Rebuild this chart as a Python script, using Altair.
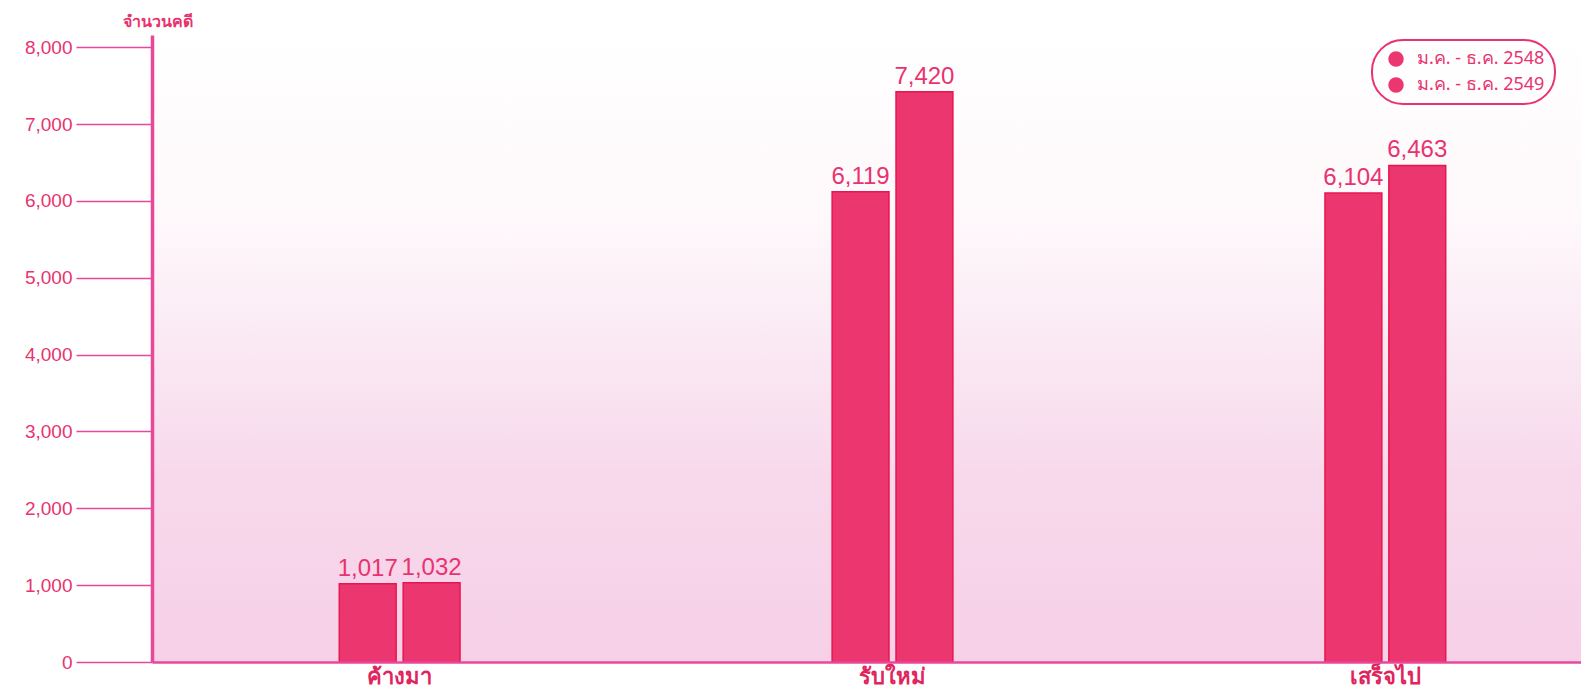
import altair as alt
import pandas as pd

categories = ["ค้างมา", "รับใหม่", "เสร็จไป"]
series = ["ม.ค. - ธ.ค. 2548", "ม.ค. - ธ.ค. 2549"]
v2548 = [1017, 6119, 6104]
v2549 = [1032, 7420, 6463]
y_ticks = [0, 1000, 2000, 3000, 4000, 5000, 6000, 7000, 8000]

rows = []
for i, c in enumerate(categories):
    rows.append({"cat": c, "series": series[0], "value": v2548[i]})
    rows.append({"cat": c, "series": series[1], "value": v2549[i]})
df = pd.DataFrame(rows)

W, H = 1429, 627
PINK = "#e8336f"
LINE = "#e8489a"
BAR = "#ec3670"
NUMFONT = "Liberation Sans"
THFONT = "Noto Sans"

bg = alt.Chart(pd.DataFrame({"a": [0]})).mark_rect(
    color=alt.LinearGradient(
        gradient="linear", x1=0, x2=0, y1=0, y2=1,
        stops=[
            alt.GradientStop(offset=0, color="#ffffff"),
            alt.GradientStop(offset=0.3, color="#fef8fb"),
            alt.GradientStop(offset=0.5, color="#fae8f3"),
            alt.GradientStop(offset=0.7, color="#f8d9ec"),
            alt.GradientStop(offset=1, color="#f6d0e7"),
        ],
    )
).encode(x=alt.value(0), x2=alt.value(W + 10), y=alt.value(0), y2=alt.value(H))

xenc = alt.X("cat:N", sort=categories,
             scale=alt.Scale(range=[0, 1481], paddingInner=0.755, paddingOuter=0.38),
             axis=alt.Axis(title=None, labelAngle=0, ticks=False, domainColor=LINE,
                           domainWidth=2.5, labelFontSize=22, labelFontWeight="bold",
                           labelColor="#e0245e", labelPadding=21, zindex=1,
                           labelBaseline="alphabetic", labelFont=THFONT))
xoff = alt.XOffset("series:N", sort=series, scale=alt.Scale(paddingInner=0.11))
yenc = alt.Y("value:Q", scale=alt.Scale(domain=[0, 8160], nice=False),
             axis=alt.Axis(values=y_ticks, format=",.0f", grid=False, tickSize=76,
                           tickColor=LINE, tickWidth=1.5, domainColor=LINE,
                           domainWidth=3.5, labelFontSize=19, labelColor=PINK,
                           labelPadding=4, labelFont=NUMFONT, zindex=1,
                           title="จำนวนคดี", titleAngle=0, titleX=5, titleY=-6,
                           titleAlign="center", titleBaseline="bottom",
                           titleFontSize=16, titleFontWeight="bold",
                           titleColor=PINK, titleFont=THFONT))

bars = alt.Chart(df).mark_bar(stroke="#e8164e", strokeWidth=1.5).encode(
    x=xenc, xOffset=xoff, y=yenc,
    color=alt.Color("series:N", sort=series,
                    scale=alt.Scale(domain=series, range=[BAR, BAR]),
                    legend=alt.Legend(title=None, orient="none", legendX=1220, legendY=5,
                                      strokeColor=PINK, cornerRadius=31,
                                      padding=10, symbolType="circle", symbolSize=240,
                                      labelFontSize=18, labelColor=PINK, labelFont=THFONT,
                                      labelOffset=12, rowPadding=8, symbolStrokeWidth=0,
                                      symbolFillColor="#e8245c", symbolOffset=5)),
)

labels = alt.Chart(df).mark_text(baseline="alphabetic", dy=-8, fontSize=24, color=PINK,
                                 font=NUMFONT).encode(
    x=alt.X("cat:N", sort=categories), xOffset=alt.XOffset("series:N", sort=series),
    y="value:Q", text=alt.Text("value:Q", format=","),
)

chart = alt.layer(bg, bars, labels).properties(
    width=W, height=H,
    autosize=alt.AutoSizeParams(type="none"),
    padding={"left": 144, "top": 27, "right": 0, "bottom": 26},
).configure_view(stroke=None).configure_legend(strokeWidth=2)

chart.save("out.html", embed_options={"renderer": "svg", "actions": False})
